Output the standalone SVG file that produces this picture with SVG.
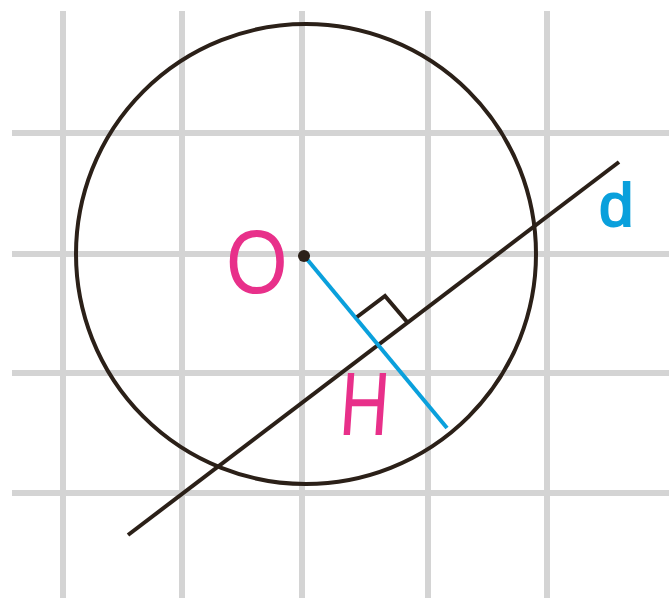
<svg xmlns="http://www.w3.org/2000/svg" width="669" height="598" viewBox="0 0 669 598">
<style>
.grid{stroke:#d4d4d4;stroke-width:6;fill:none}
.ink{stroke:#2b2018;stroke-width:4;fill:none}
.blue{stroke:#0aa0dc;stroke-width:4;fill:none}
.pink{fill:#e8308a;font-family:"Liberation Sans",Arial,sans-serif;font-size:90px}
.lblue{fill:#0aa0dc;stroke:#0aa0dc;stroke-width:2;font-family:"Liberation Sans",Arial,sans-serif;font-size:62px}
</style>
<rect width="669" height="598" fill="#ffffff"/>
<g id="grid">
<line class="grid" x1="63" y1="11" x2="63" y2="598"/>
<line class="grid" x1="182" y1="11" x2="182" y2="598"/>
<line class="grid" x1="302" y1="11" x2="302" y2="598"/>
<line class="grid" x1="428" y1="11" x2="428" y2="598"/>
<line class="grid" x1="547" y1="11" x2="547" y2="598"/>
<line class="grid" x1="12" y1="133" x2="669" y2="133"/>
<line class="grid" x1="12" y1="254" x2="669" y2="254"/>
<line class="grid" x1="12" y1="373" x2="669" y2="373"/>
<line class="grid" x1="12" y1="493" x2="669" y2="493"/>
</g>
<g id="circle">
<circle class="ink" cx="306" cy="254" r="230"/>
</g>
<g id="connectors">
<line id="line-d" class="ink" x1="128" y1="535" x2="619" y2="162"/>
<line id="segment-OH" class="blue" x1="306" y1="258" x2="447" y2="428"/>
<polyline id="right-angle" class="ink" points="357,317 385,296 408,323"/>
</g>
<g id="node-O">
<circle cx="304" cy="256" r="6" fill="#2b2018"/>
<text class="pink" transform="translate(226,293) scale(0.88,1)">O</text>
</g>
<g id="node-H">
<text class="pink" transform="translate(338,435) skewX(-4) scale(0.76,1)">H</text>
</g>
<g id="label-d">
<text class="lblue" x="599" y="226">d</text>
</g>
</svg>
